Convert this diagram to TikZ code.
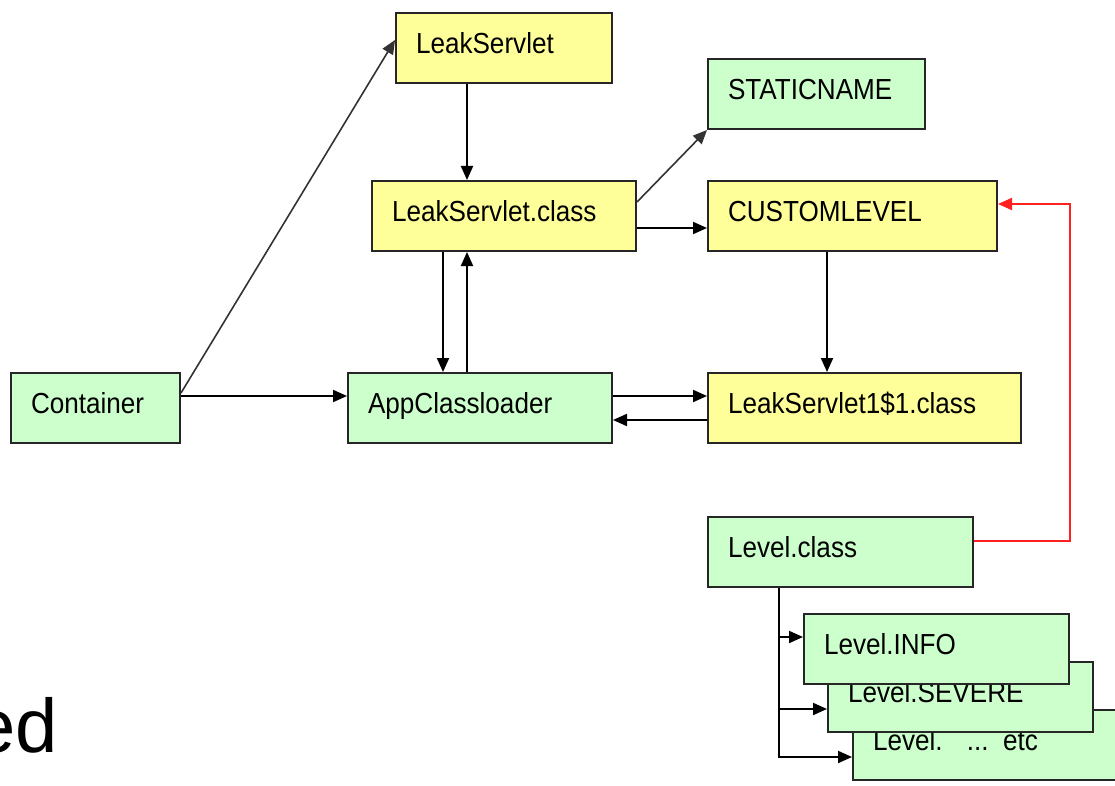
\documentclass[tikz,border=0pt]{standalone}
\usepackage{fontspec}
\usetikzlibrary{arrows.meta}
\newfontfamily\boxfont{Liberation Sans}[FakeStretch=0.9]
\newfontfamily\bigfont{Liberation Sans}
\definecolor{boxyellow}{HTML}{FFFF99}
\definecolor{boxgreen}{HTML}{CCFFCC}
\definecolor{linkred}{HTML}{FF2020}
\tikzset{
  box/.style={draw=black!85, line width=2pt, rectangle, anchor=north west,
    minimum height=70pt, inner xsep=20pt, inner ysep=0pt,
    text height=22pt, text depth=11pt, align=left,
    font=\boxfont\fontsize{29}{34}\selectfont},
  ybox/.style={box, fill=boxyellow},
  gbox/.style={box, fill=boxgreen},
  arr/.style={draw=black, line width=2pt, -{Triangle[length=14pt,width=12pt]}},
  thinarr/.style={arr, line width=1.6pt, draw=black!80},
  redarr/.style={draw=linkred, line width=2pt, {Triangle[length=14pt,width=12pt]}-},
}
\begin{document}
\begin{tikzpicture}[x=1pt, y=-1pt]
\useasboundingbox (0,0) rectangle (1115,786);
\clip (0,0) rectangle (1115,786);

% servlet side
\node[ybox, text width=176pt] (ls)  at (395,12)  {LeakServlet};
\node[ybox, text width=224pt] (lsc) at (371,180) {LeakServlet.class};
\node[gbox, text width=129pt] (cont) at (10,372) {Container};
\node[gbox, text width=224pt] (app) at (347,372) {AppClassloader};

% static fields and inner class
\node[gbox, text width=177pt] (sn) at (707,58)  {STATICNAME};
\node[ybox, text width=249pt] (cl) at (707,180) {CUSTOMLEVEL};
\node[ybox, text width=273pt] (l1) at (707,372) {LeakServlet1\$1.class};

% Level hierarchy, stacked from back to front
\node[gbox, text width=225pt] (lc)   at (707,516) {Level.class};
\node[gbox, text width=230pt] (etc)  at (852,709) {Level. \ ... etc};
\node[gbox, text width=225pt] (sev)  at (827,661) {Level.SEVERE};
\node[gbox, text width=225pt] (info) at (803,613) {Level.INFO};

% caption fragment at the lower left
\node[font=\bigfont\fontsize{76}{80}\selectfont, anchor=base east, inner sep=0pt] (cap) at (58,752) {ed};

% connectors
\draw[thinarr] ([yshift=-21pt]cont.north east) -- ([yshift=-28pt]ls.north west);
\draw[arr] ([yshift=-24pt]cont.north east) -- ([yshift=-24pt]app.north west);
\draw[arr] ([xshift=72pt]ls.south west) -- ([xshift=96pt]lsc.north west);
\draw[arr] ([xshift=72pt]lsc.south west) -- ([xshift=96pt]app.north west);
\draw[arr] ([xshift=120pt]app.north west) -- ([xshift=96pt]lsc.south west);
\draw[thinarr] ([yshift=-22pt]lsc.north east) -- (sn.south west);
\draw[arr] ([yshift=-48pt]lsc.north east) -- ([yshift=-48pt]cl.north west);
\draw[arr] ([xshift=120pt]cl.south west) -- ([xshift=120pt]l1.north west);
\draw[arr] ([yshift=-24pt]app.north east) -- ([yshift=-24pt]l1.north west);
\draw[arr] ([yshift=-48pt]l1.north west) -- ([yshift=-48pt]app.north east);
\draw[redarr] ([yshift=-24pt]cl.north east) -| ([xshift=96pt,yshift=-25pt]lc.north east) -- ([yshift=-25pt]lc.north east);

\coordinate (trunk) at ([xshift=72pt]lc.south west);
\draw[arr] (trunk) |- ([yshift=-48pt]etc.north west);
\draw[arr] (trunk) |- ([yshift=-48pt]sev.north west);
\draw[arr] (trunk) |- ([yshift=-24pt]info.north west);
\end{tikzpicture}
\end{document}
